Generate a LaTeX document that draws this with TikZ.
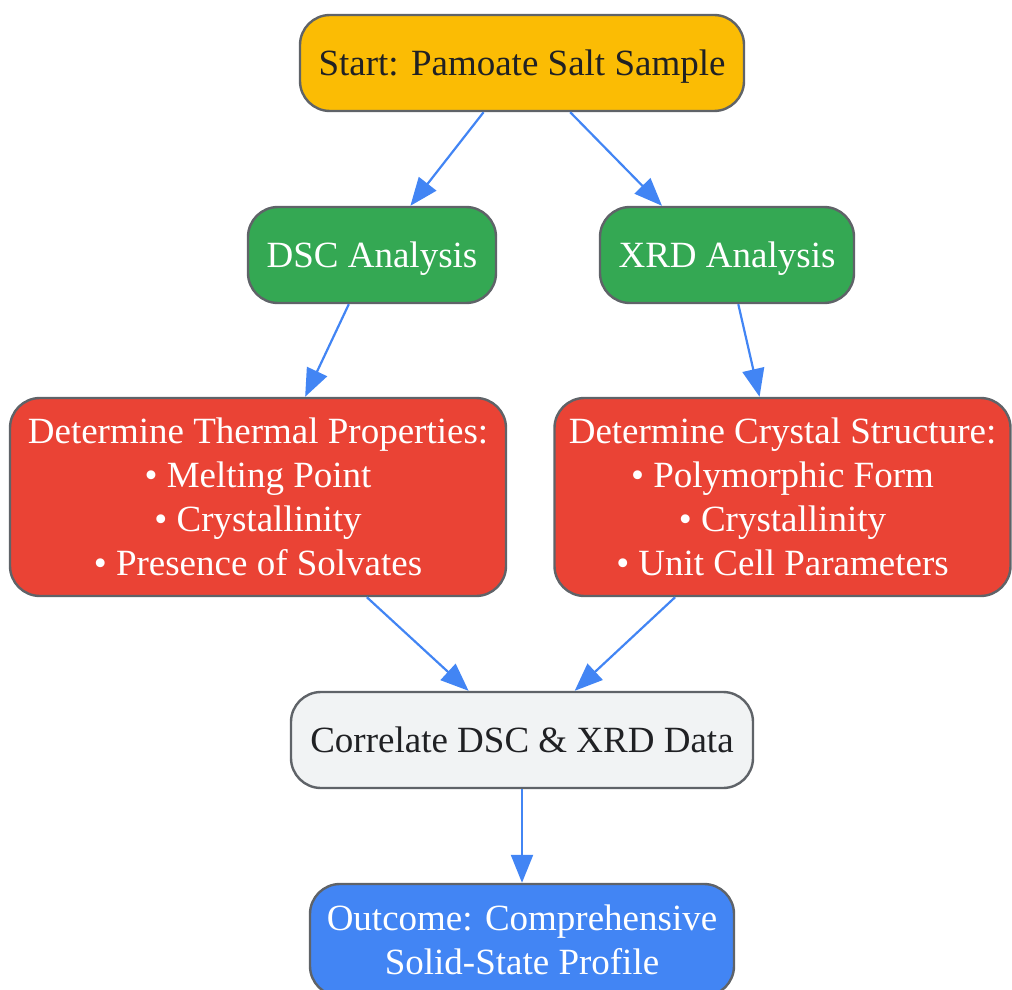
\documentclass[tikz,border=0pt]{standalone}
\usepackage{fontspec}
\setmainfont{Liberation Serif}
\usetikzlibrary{arrows.meta}

\definecolor{startyellow}{HTML}{FBBC04}
\definecolor{stepgreen}{HTML}{34A853}
\definecolor{resultred}{HTML}{EA4335}
\definecolor{mergegray}{HTML}{F1F3F4}
\definecolor{outblue}{HTML}{4285F4}
\definecolor{edgegray}{HTML}{5F6368}
\definecolor{darktext}{HTML}{202124}

\tikzset{
  box/.style={draw=edgegray, line width=1.2pt, rounded corners=15pt, align=center,
    inner sep=0pt, text depth=0pt, font=\fontsize{18.5}{22}\selectfont},
  flow/.style={draw=outblue, line width=1.1pt, -{Triangle[length=14pt,width=11pt]}}
}

\begin{document}
\begin{tikzpicture}[x=0.5pt,y=-0.5pt]
\useasboundingbox (0,0) rectangle (1012,990);
\node(start) [box, fill=startyellow, text=darktext, minimum width=222pt, minimum height=48pt] at (522,63) {Start: Pamoate Salt Sample};
\node(dsc) [box, fill=stepgreen, text=white, minimum width=124pt, minimum height=48pt] at (372,255) {DSC Analysis};
\node(xrd) [box, fill=stepgreen, text=white, minimum width=127pt, minimum height=48pt] at (727,255) {XRD Analysis};
\node(thermal) [box, fill=resultred, text=white, minimum width=248pt, minimum height=99pt] at (258,497)
  {Determine Thermal Properties:\\ • Melting Point\\ • Crystallinity\\ • Presence of Solvates};
\node(crystal) [box, fill=resultred, text=white, minimum width=228pt, minimum height=99pt] at (782.5,497)
  {Determine Crystal Structure:\\ • Polymorphic Form\\ • Crystallinity\\ • Unit Cell Parameters};
\node(merge) [box, fill=mergegray, text=darktext, minimum width=231pt, minimum height=48pt] at (522,740) {Correlate DSC \& XRD Data};
\node(outcome) [box, fill=outblue, text=white, minimum width=212pt, minimum height=56pt] at (522,940)
  {Outcome: Comprehensive\\ Solid-State Profile};

\draw[flow] (start) -- (dsc);
\draw[flow] (start) -- ([xshift=-32.5pt]xrd.north);
\draw[flow] (dsc) -- (thermal);
\draw[flow] (xrd) -- (crystal);
\draw[flow] (thermal) -- (merge);
\draw[flow] (crystal) -- (merge);
\draw[flow] (merge) -- (outcome);
\end{tikzpicture}
\end{document}
